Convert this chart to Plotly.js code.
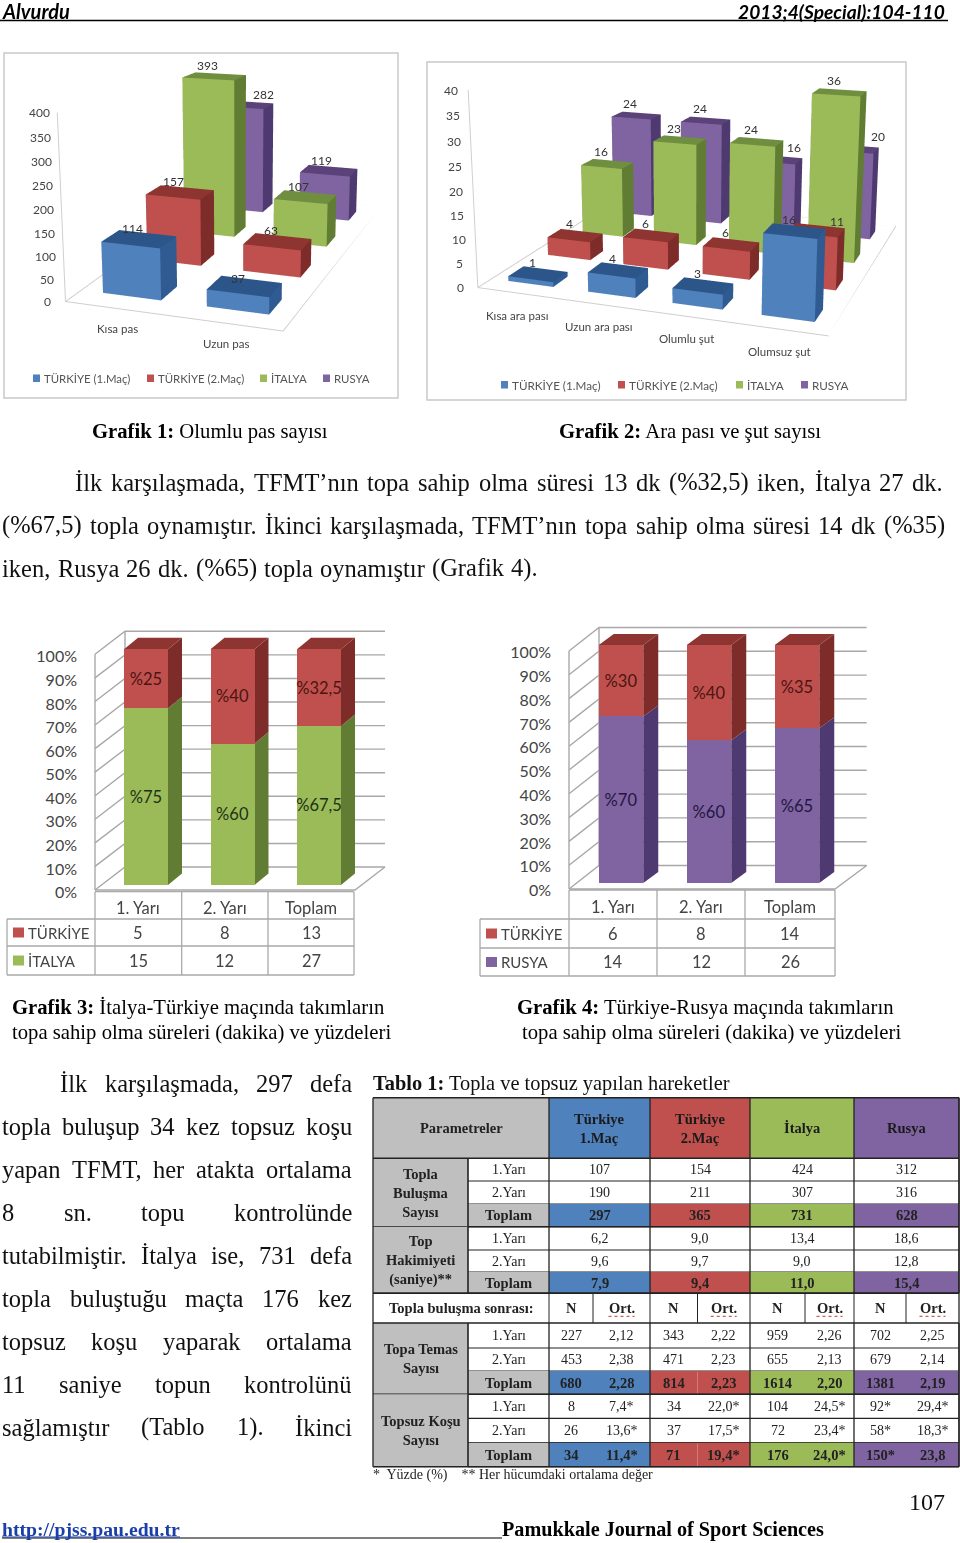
<!DOCTYPE html>
<html><head><meta charset="utf-8">
<script src="https://cdn.plot.ly/plotly-3.0.1.min.js"></script>
<style>html,body{margin:0;padding:0;background:#fff;width:960px;height:1543px;overflow:hidden}#g{position:absolute;left:-500px;top:-800px;width:1960px;height:3143px}</style></head>
<body><div id="g"></div>
<script>
// ---------- DATA ----------
const seriesNames=['TÜRKİYE (1.Maç)','TÜRKİYE (2.Maç)','İTALYA','RUSYA'];
const g1Categories=['Kısa pas','Uzun pas'];
const g1Turkiye1=[114,37];
const g1Turkiye2=[157,63];
const g1Italya=[393,107];
const g1Rusya=[282,119];
const g1Ticks=[0,50,100,150,200,250,300,350,400];
const g2Categories=['Kısa ara pası','Uzun ara pası','Olumlu şut','Olumsuz şut'];
const g2Turkiye1=[1,4,3,16];
const g2Turkiye2=[4,6,6,11];
const g2Italya=[16,23,24,36];
const g2Rusya=[24,24,16,20];
const g2Ticks=[0,5,10,15,20,25,30,35,40];
const halves=['1. Yarı','2. Yarı','Toplam'];
const g3TurkiyePct=[25,40,32.5];
const g3ItalyaPct=[75,60,67.5];
const g3TurkiyeDk=[5,8,13];
const g3ItalyaDk=[15,12,27];
const g4TurkiyePct=[30,40,35];
const g4RusyaPct=[70,60,65];
const g4TurkiyeDk=[6,8,14];
const g4RusyaDk=[14,12,26];
const tableHeads=['Türkiye<br>1.Maç','Türkiye<br>2.Maç','İtalya','Rusya'];
const toplaBulusma=[['107','154','424','312'],['190','211','307','316'],['297','365','731','628']];
const topHakimiyeti=[['6,2','9,0','13,4','18,6'],['9,6','9,7','9,0','12,8'],['7,9','9,4','11,0','15,4']];
const topaTemas=[['227','2,12','343','2,22','959','2,26','702','2,25'],['453','2,38','471','2,23','655','2,13','679','2,14'],['680','2,28','814','2,23','1614','2,20','1381','2,19']];
const topsuzKosu=[['8','7,4*','34','22,0*','104','24,5*','92*','29,4*'],['26','13,6*','37','17,5*','72','23,4*','58*','18,3*'],['34','11,4*','71','19,4*','176','24,0*','150*','23,8']];
const rowNames=['1.Yarı','2.Yarı','Toplam'];
const para1=['İlk karşılaşmada, TFMT’nın topa sahip olma süresi 13 dk (%32,5) iken, İtalya 27 dk.','(%67,5) topla oynamıştır. İkinci karşılaşmada, TFMT’nın topa sahip olma süresi 14 dk (%35)','iken, Rusya 26 dk. (%65) topla oynamıştır (Grafik 4).'];
const para2=['İlk karşılaşmada, 297 defa','topla buluşup 34 kez topsuz koşu','yapan TFMT, her atakta ortalama','8 sn. topu kontrolünde','tutabilmiştir. İtalya ise, 731 defa','topla buluştuğu maçta 176 kez','topsuz koşu yaparak ortalama','11 saniye topun kontrolünü','sağlamıştır (Tablo 1). İkinci'];

// ---------- STYLE ----------
const BLUE=['#4F81BD','#2F5B92','#2C5689'], RED=['#C0504D','#7E2C2A','#8E3431'], GREEN=['#9BBB59','#617D34','#6F8E3F'], PURPLE=['#8064A2','#4E3A70','#5B4279'];
const CHART='Lato', SERIF='Liberation Serif';
const OX=500,OY=800,W=960+2*OX,H=1543+2*OY, px=x=>(x+OX)/W, py=y=>1-(y+OY)/H;
const TAN=Math.tan(Math.PI/8);
const annotations=[], shapes=[], traces=[];
const ctx=document.createElement('canvas').getContext('2d');
function txt(s,x,y,size,o={}){annotations.push({xref:'paper',yref:'paper',x:px(x),y:py(y),text:s,showarrow:false,borderpad:0,
  xanchor:o.anchor||'left',yanchor:'middle',align:o.align||'center',font:{family:o.family||SERIF,size,color:o.color||'#111'}});}
function justify(line,x1,x2,y,size){const w=line.split(' ');ctx.font=size+'px "'+SERIF+'"';
  const ws=w.map(a=>ctx.measureText(a).width),sum=ws.reduce((a,b)=>a+b,0),gap=(x2-x1-sum)/(w.length-1);let x=x1;
  w.forEach((a,i)=>{txt(a,x,y,size);x+=ws[i]+gap;});}
function rect(x0,y0,x1,y1,fill,line,lw){shapes.push({type:'rect',xref:'paper',yref:'paper',x0:px(x0),x1:px(x1),y0:py(y0),y1:py(y1),layer:'below',fillcolor:fill||'rgba(0,0,0,0)',line:{color:line||'rgba(0,0,0,0)',width:line?(lw||1):0}});}
function seg(x0,y0,x1,y1,c,w,dash){shapes.push({type:'line',xref:'paper',yref:'paper',x0:px(x0),x1:px(x1),y0:py(y0),y1:py(y1),layer:'below',line:{color:c,width:w,dash:dash||'solid'}});}

// ---------- 3D grouped bars ----------
function box3d(name,xc,yc,v,hw,hd,cols){
  const X=[xc-hw,xc+hw,xc+hw,xc-hw,xc-hw,xc+hw,xc+hw,xc-hw],Y=[yc-hd,yc-hd,yc+hd,yc+hd,yc-hd,yc-hd,yc+hd,yc+hd],Z=[0,0,0,0,v,v,v,v];
  const faces=[[0,1,5,cols[0]],[0,5,4,cols[0]],[1,2,6,cols[1]],[1,6,5,cols[1]],[4,5,6,cols[2]],[4,6,7,cols[2]],[3,0,4,cols[1]],[3,4,7,cols[1]],[2,3,7,cols[1]],[2,7,6,cols[1]],[0,3,2,cols[1]],[0,2,1,cols[1]]];
  return {name,x:X,y:Y,z:Z,i:faces.map(f=>f[0]),j:faces.map(f=>f[1]),k:faces.map(f=>f[2]),facecolor:faces.map(f=>f[3]),flatshading:true,
    lighting:{ambient:1,diffuse:0,specular:0,roughness:1,fresnel:0},hoverinfo:'skip',showscale:false};
}
function chart3d(id,cfg){
  const hh=cfg.f*TAN,cX=cfg.cx,cY=cfg.cy,half=Math.min(cX+OX,960+OX-cX);
  const sc='scene'+(id===1?'':id),sets=cfg.sets,cols=[BLUE,RED,GREEN,PURPLE],ann=[];
  const nx=cfg.cats.length,ny=sets.length,xr=[-0.5,nx-0.5],yr=[-0.5,ny-0.5],zmax=cfg.ticks[cfg.ticks.length-1];
  sets.forEach((s,si)=>s.forEach((v,ci)=>{
    const t=box3d(seriesNames[si],ci,si,v,cfg.hw,cfg.hd,cols[si]);t.type='mesh3d';t.scene=sc;traces.push(t);
    const n=(cfg.nudge||{})[si+','+ci]||[0,0];
    ann.push({x:ci,y:si,z:v,text:String(v),showarrow:false,yshift:cfg.labelUp+n[1],xshift:cfg.labelX+n[0],font:{family:CHART,size:cfg.vsize,color:'#333'}});
  }));
  const floorX=[xr[0],xr[1],xr[1],xr[0],xr[0]],floorY=[yr[0],yr[0],yr[1],yr[1],yr[0]];
  traces.push({type:'scatter3d',scene:sc,mode:'lines',x:floorX,y:floorY,z:floorX.map(()=>0),line:{color:'#cfcfcf',width:2},hoverinfo:'skip',showlegend:false});
  traces.push({type:'scatter3d',scene:sc,mode:'lines',x:[xr[0],xr[0]],y:[yr[0],yr[0]],z:[0,zmax],line:{color:'#cfcfcf',width:2},hoverinfo:'skip',showlegend:false});
  cfg.ticks.forEach(t=>ann.push({x:xr[0],y:yr[0],z:t,text:String(t),showarrow:false,xshift:cfg.tickShift,font:{family:CHART,size:cfg.tsize,color:'#444'}}));
  cfg.cats.forEach((c,i)=>ann.push({x:i,y:yr[0],z:0,text:c,showarrow:false,yshift:cfg.catDown,xshift:cfg.catShift,font:{family:CHART,size:cfg.csize,color:'#444'}}));
  const ax=r=>({visible:false,range:r,showspikes:false});
  layout[sc]={domain:{x:[px(cX-half),px(cX+half)],y:[py(cY+hh),py(cY-hh)]},bgcolor:'rgba(0,0,0,0)',
    xaxis:ax(xr),yaxis:ax(yr),zaxis:ax([0,zmax]),aspectmode:'manual',aspectratio:cfg.aspect,annotations:ann,
    camera:{eye:cfg.eye,center:cfg.center,up:{x:0,y:0,z:1},projection:{type:'perspective'}}};
  rect(cfg.box[0],cfg.box[1],cfg.box[2],cfg.box[3],null,'#c9c9c9',1.5);
  cfg.legend.forEach((lx,i)=>{rect(lx,cfg.legY-4,lx+7,cfg.legY+3.5,cols[i][0]);txt(seriesNames[i],lx+10,cfg.legY,cfg.legS,{family:CHART,color:'#555'});});
}

// ---------- stacked bars with oblique depth on cartesian axes ----------
function stacked(idx,c){
  const a=idx*2-1,b=idx*2,xid='x'+(a===1?'':a),yid='y'+(a===1?'':a),x2='x'+b,y2='y'+b;
  const sx=c.centers[1]-c.centers[0],sy=(c.bottom-c.top)/100;
  const xOf=p=>(p-c.centers[0])/sx;
  const range=[xOf(c.xl),xOf(c.xr)],yr=[-6,113];
  const drop=c.labelDrop, off=drop/sy;
  const dom={x:[px(c.xl),px(c.xr)],y:[py(c.bottom-yr[0]*sy),py(c.bottom-yr[1]*sy)]};
  const domB=[py(c.bottom+drop-yr[0]*sy),py(c.bottom+drop-yr[1]*sy)];
  const hide={visible:false,fixedrange:true};
  const ticks=[0,10,20,30,40,50,60,70,80,90,100];
  layout['xaxis'+(a===1?'':a)]={...hide,domain:dom.x,range,anchor:yid};
  layout['yaxis'+(a===1?'':a)]={domain:domB,range:yr,anchor:xid,tickvals:ticks,ticktext:ticks.map(t=>t+'%'),
    showgrid:false,zeroline:false,showline:false,ticks:'',tickfont:{family:CHART,size:16,color:'#444'},ticklabelstandoff:c.stand,fixedrange:true};
  layout['xaxis'+b]={...hide,domain:dom.x,range,anchor:y2};
  layout['yaxis'+b]={...hide,domain:dom.y,range:yr,anchor:x2};
  const fx=xOf(c.wallX),bx=xOf(c.wallX+c.wd),ex=xOf(c.wallEnd);
  const sh=(c.wallBottom-c.bottom)/sy,wu=c.wdy/sy;
  const gc='#a8a8a8';
  const line=(X,Y)=>traces.push({type:'scatter',mode:'lines',x:X,y:Y.map(v=>v+off),xaxis:xid,yaxis:yid,line:{color:gc,width:1.4},hoverinfo:'skip',showlegend:false});
  ticks.forEach(t=>line([fx,bx,ex],[t-sh,t-sh+wu,t-sh+wu]));
  line([fx,fx],[-sh,100-sh]);line([bx,bx],[wu-sh,100-sh+wu]);
  line([fx,xOf(c.floorEnd),ex],[-sh,-sh,wu-sh]);
  const dx=c.bdx/sx,dv=c.bdy/sy,hw=c.bw/sx/2;
  const stack=[[c.low,c.lowCol],[c.high,RED]];
  c.cats.forEach((_,i)=>{let base=0;stack.forEach(([vals,col])=>{const v=vals[i];
    traces.push({type:'scatter',mode:'lines',fill:'toself',fillcolor:col[1],line:{width:0,color:col[1]},x:[i+hw,i+hw+dx,i+hw+dx,i+hw,i+hw],y:[base,base+dv,base+v+dv,base+v,base].map(q=>q+off),xaxis:xid,yaxis:yid,hoverinfo:'skip',showlegend:false});
    base+=v;});
    traces.push({type:'scatter',mode:'lines',fill:'toself',fillcolor:RED[2],line:{width:0,color:RED[2]},x:[i-hw,i+hw,i+hw+dx,i-hw+dx,i-hw],y:[100,100,100+dv,100+dv,100].map(q=>q+off),xaxis:xid,yaxis:yid,hoverinfo:'skip',showlegend:false});
  });
  const ix=c.cats.map((_,i)=>i);
  stack.forEach(([vals,col],si)=>traces.push({type:'bar',x:ix,y:vals,width:c.bw/sx,marker:{color:col[0],line:{width:0}},xaxis:x2,yaxis:y2,text:vals.map(v=>'%'+String(v).replace('.',',')),
    textposition:'inside',insidetextanchor:'middle',textangle:0,constraintext:'none',textfont:{family:CHART,size:16.5,color:si?'#4a1513':c.lowTxt},hoverinfo:'skip',showlegend:false}));
  const T=c.tab,tc='#a9a9a9';
  [[T.x[0],T.x[3],T.y[0]],[T.lx,T.x[3],T.y[1]],[T.lx,T.x[3],T.y[2]],[T.lx,T.x[3],T.y[3]]].forEach(r=>seg(r[0],r[2],r[1],r[2],tc,1.3));
  T.x.forEach(x=>seg(x,T.y[0],x,T.y[3],tc,1.3));
  seg(T.lx,T.y[1],T.lx,T.y[3],tc,1.3);
  c.cats.forEach((t,i)=>{const m=(T.x[i]+T.x[i+1])/2;
    txt(t,m,(T.y[0]+T.y[1])/2+2.5,16.5,{family:CHART,anchor:'center',color:'#444'});
    txt(String(c.topDk[i]),m,(T.y[1]+T.y[2])/2,16.5,{family:CHART,anchor:'center',color:'#444'});
    txt(String(c.lowDk[i]),m,(T.y[2]+T.y[3])/2,16.5,{family:CHART,anchor:'center',color:'#444'});});
  [[c.topName,RED[0],T.y[1],T.y[2]],[c.lowName,c.lowCol[0],T.y[2],T.y[3]]].forEach(r=>{const m=(r[2]+r[3])/2;
    rect(T.lx+6,m-5,T.lx+17,m+5,r[1]);txt(r[0],T.lx+20,m,15,{family:CHART,color:'#444'});});
}

// ---------- layout ----------
const layout={width:W,height:H,margin:{l:0,r:0,t:0,b:0,pad:0},paper_bgcolor:'#fff',plot_bgcolor:'rgba(0,0,0,0)',showlegend:false,barmode:'stack',hovermode:false,dragmode:false,annotations,shapes};

chart3d(1,{cats:g1Categories,sets:[g1Turkiye1,g1Turkiye2,g1Italya,g1Rusya],ticks:g1Ticks,
  eye:{x:1.635,y:-4.786,z:1.256},center:{x:-0.006,y:-0.091,z:-0.007},aspect:{x:1,y:1.945,z:0.846},hw:0.284,hd:0.189,f:1041.617,cx:237.571,cy:172.917,
  box:[4,53,398,398],labelUp:11,labelX:-7,vsize:12,tsize:12,csize:11.5,tickShift:-18,catDown:-20,catShift:0,nudge:{'3,0':[26,0],'0,1':[0,-3]},
  legend:[33,147,260,323],legY:378.5,legS:11.4});
chart3d(2,{cats:g2Categories,sets:[g2Turkiye1,g2Turkiye2,g2Italya,g2Rusya],ticks:g2Ticks,
  eye:{x:1.782,y:-5.124,z:1.357},center:{x:-0.104,y:0.023,z:-0.007},aspect:{x:1.7,y:1.671,z:0.953},hw:0.285,hd:0.185,f:1098.567,cx:687.127,cy:164.073,
  box:[427,62,906,400],labelUp:12,labelX:-6,vsize:12,tsize:12,csize:11.5,tickShift:-17,catDown:-22,catShift:-1,nudge:{'3,3':[30,0],'3,2':[22,0],'1,3':[27,-3]},
  legend:[501,618,736,801],legY:385,legS:11.7});

stacked(1,{cats:halves,centers:[146,232.5,319],top:649.3,bottom:885,xl:93,xr:388,stand:15,labelDrop:7.5,wallX:95,wd:30,wdy:23,wallBottom:890,wallEnd:385,floorEnd:355,
  bw:44,bdx:14,bdy:11.5,low:g3ItalyaPct,lowCol:GREEN,lowTxt:'#1e3216',high:g3TurkiyePct,topDk:g3TurkiyeDk,lowDk:g3ItalyaDk,topName:'TÜRKİYE',lowName:'İTALYA',
  tab:{x:[95,181.7,268,354],y:[891.7,919,946,975],lx:7}});
stacked(2,{cats:halves,centers:[621,709,798],top:645,bottom:883,xl:567,xr:869,stand:15,labelDrop:7.5,wallX:569,wd:30,wdy:23.5,wallBottom:889,wallEnd:866.7,floorEnd:835,
  bw:44.5,bdx:15,bdy:11,low:g4RusyaPct,lowCol:PURPLE,lowTxt:'#241640',high:g4TurkiyePct,topDk:g4TurkiyeDk,lowDk:g4RusyaDk,topName:'TÜRKİYE',lowName:'RUSYA',
  tab:{x:[569,657,745,835],y:[890,919,948,976],lx:480}});

// ---------- page text ----------
txt('<b><i>Alvurdu</i></b>',1,11,20,{family:CHART,color:'#000'});
txt('<b><i>2013;4(Special):104-110</i></b>',946,11,19.2,{family:CHART,anchor:'right',color:'#000'});
seg(0,20.5,948,20.5,'#000',1.3);
const cap=(b,r,x,y,s)=>txt('<b>'+b+'</b> '+r,x,y,s,{color:'#000'});
cap('Grafik 1:','Olumlu pas sayısı',91,431,20.7);cap('Grafik 2:','Ara pası ve şut sayısı',558,431,20.7);
justify(para1[0],74,942,482,24.5);justify(para1[1],1,944,525,24.5);justify(para1[2],1,537,568,24.5);
cap('Grafik 3:','İtalya-Türkiye maçında takımların',11,1007,20.7);txt('topa sahip olma süreleri (dakika) ve yüzdeleri',11,1032,20.7,{color:'#000'});
cap('Grafik 4:','Türkiye-Rusya maçında takımların',516,1007,20.7);txt('topa sahip olma süreleri (dakika) ve yüzdeleri',521,1032,20.7,{color:'#000'});
para2.forEach((l,i)=>justify(l,i===0?59:1,351,1083+i*43.05,24.5));
txt('<b>Tablo 1:</b> Topla ve topsuz yapılan hareketler',372,1083,20.4,{color:'#111'});

// ---------- Tablo 1 ----------
const cx=[373,468,549,650,750,854,959], sub=[549,593,650,697.5,750,805,854,906,959];
const ry=[1097.7,1158.3,1181,1204,1226.7,1250,1272,1293.3,1323,1348,1371,1394.3,1418.3,1442.7,1466.7];
const GR='#BFBFBF',teamC=[BLUE[0],RED[0],GREEN[0],PURPLE[0]],TK=14.5,tcol='#222';
rect(373,ry[0],549,ry[1],GR);
txt('<b>Parametreler</b>',(373+549)/2,1128,TK,{anchor:'center',color:tcol});
tableHeads.forEach((h,i)=>{rect(cx[i+2],ry[0],cx[i+3],ry[1],teamC[i]);txt('<b>'+h+'</b>',(cx[i+2]+cx[i+3])/2,1128,TK,{anchor:'center',color:'#1a1a1a'});});
function block(top,label,rows){
  rect(373,ry[top],468,ry[top+3],GR);
  txt('<b>'+label+'</b>',420.5,(ry[top]+ry[top+3])/2,TK,{anchor:'center',color:tcol});
  rows.forEach((r,ri)=>{const y0=ry[top+ri],y1=ry[top+ri+1],ym=(y0+y1)/2,tot=ri===2;
    if(tot)rect(468,y0,549,y1,GR);
    txt(tot?'<b>'+rowNames[ri]+'</b>':rowNames[ri],508.5,ym,tot?TK:TK-0.5,{anchor:'center',color:tcol});
    const xs=r.length===4?cx.slice(2):sub;
    r.forEach((v,i)=>{if(tot)rect(xs[i],y0,xs[i+1],y1,teamC[r.length===4?i:Math.floor(i/2)]);
      txt(tot?'<b>'+v+'</b>':v,(xs[i]+xs[i+1])/2,ym,tot?TK:TK-0.5,{anchor:'center',color:tcol});});
    seg(468,y1,959,y1,'#222',1.2);});
  seg(373,ry[top+3],959,ry[top+3],'#222',1.6);
  seg(468,ry[top],468,ry[top+3],'#222',1.6);
  cx.slice(2).forEach(x=>seg(x,ry[top],x,ry[top+3],'#222',1.3));
}
block(1,'Topla<br>Buluşma<br>Sayısı',toplaBulusma);
block(4,'Top<br>Hakimiyeti<br>(saniye)**',topHakimiyeti);
block(8,'Topa Temas<br>Sayısı',topaTemas);
block(11,'Topsuz Koşu<br>Sayısı',topsuzKosu);
txt('<b>Topla buluşma sonrası:</b>',461,ry[7]+15,TK,{anchor:'center',color:tcol});
sub.slice(0,-1).forEach((x,i)=>{const m=(x+sub[i+1])/2;txt('<b>'+(i%2?'Ort.':'N')+'</b>',m,ry[7]+15,TK,{anchor:'center',color:tcol});seg(x,ry[7],x,ry[8],'#222',1);
  if(i%2)seg(m-13,ry[7]+23,m+13,ry[7]+23,'#c0392b',1,'dot');});
seg(373,ry[0],959,ry[0],'#222',1.6);seg(373,ry[1],959,ry[1],'#222',1.6);seg(373,ry[7],959,ry[7],'#222',1.6);seg(373,ry[8],959,ry[8],'#222',1.6);
cx.slice(2).forEach(x=>seg(x,ry[0],x,ry[1],'#222',1.3));seg(373,ry[0],373,ry[14],'#222',1.3);seg(959,ry[0],959,ry[14],'#222',1.3);
txt('*  Yüzde (%)    ** Her hücumdaki ortalama değer',372,1475,14,{color:'#222'});

// ---------- footer ----------
txt('107',908,1502,24,{color:'#111'});
txt('<b>http://pjss.pau.edu.tr</b>',1,1529,19.7,{color:'#1a3fa8'});
seg(2,1538,502,1538,'#000',1.2);seg(2,1537,180,1537,'#1a3fa8',1.2);
txt('<b>Pamukkale Journal of Sport Sciences</b>',501,1529,20.2,{color:'#000'});

Plotly.newPlot('g',traces,layout,{displayModeBar:false});
</script></body></html>
